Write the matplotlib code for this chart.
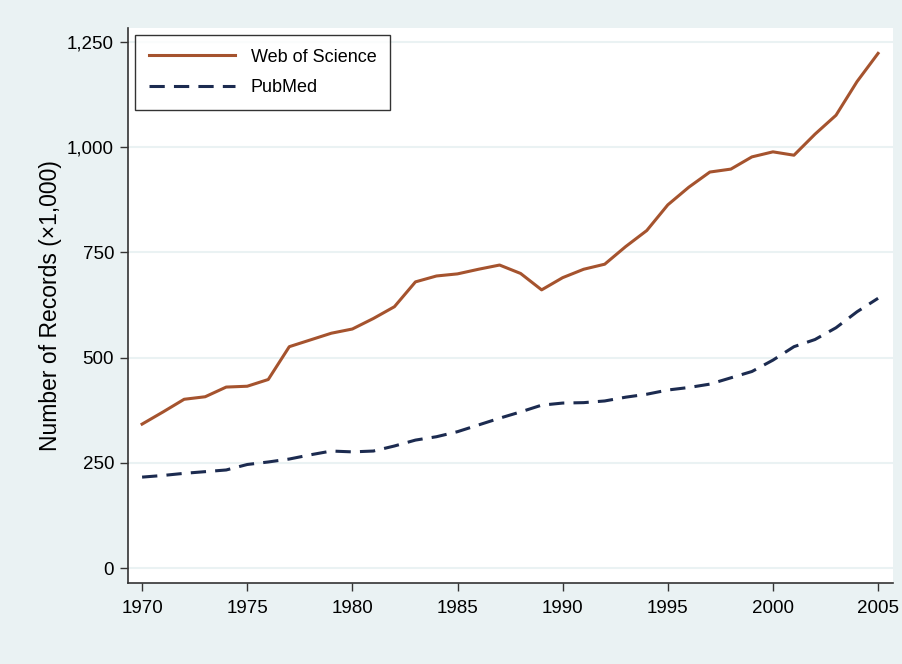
import matplotlib
matplotlib.use("Agg")
import matplotlib.pyplot as plt
from matplotlib.ticker import FuncFormatter

years = list(range(1970, 2006))
web_of_science = [342, 371, 401, 407, 430, 432, 448, 526, 542, 558, 568, 593, 621, 680,
                  694, 699, 710, 720, 700, 661, 690, 710, 722, 764, 802, 863, 905, 941,
                  948, 977, 989, 981, 1031, 1076, 1156, 1223]
pubmed = [216, 220, 225, 229, 233, 246, 252, 259, 269, 278, 276, 278, 290, 304, 312, 324,
          340, 356, 371, 387, 392, 393, 397, 406, 413, 423, 429, 437, 452, 467, 494, 526,
          543, 571, 609, 641]
x_ticks = [1970, 1975, 1980, 1985, 1990, 1995, 2000, 2005]
y_ticks = [0, 250, 500, 750, 1000, 1250]

plt.rcParams['font.family'] = ['Liberation Sans', 'DejaVu Sans']
bg = '#EAF2F3'
fig = plt.figure(figsize=(9.02, 6.64), dpi=100, facecolor=bg)
ax = fig.add_axes([128/902, 81/664, 765/902, 555/664])
ax.set_facecolor('white')

ax.plot(years, web_of_science, color='#A5532E', lw=2.2, label='Web of Science')
ax.plot(years, pubmed, color='#1C2B50', lw=2.2, dashes=(5, 3), label='PubMed')

ax.set_xlim(1969.33, 2005.71)
ax.set_ylim(-35.6, 1283.3)
ax.set_xticks(x_ticks)
ax.set_yticks(y_ticks)
ax.yaxis.set_major_formatter(FuncFormatter(lambda v, p: f"{int(v):,}"))
ax.grid(axis='y', color=bg, lw=1.5)
ax.set_axisbelow(True)
for s in ['top', 'right']:
    ax.spines[s].set_visible(False)
for s in ['left', 'bottom']:
    ax.spines[s].set_color('#333333')
    ax.spines[s].set_linewidth(1.2)
ax.tick_params(axis='both', labelsize=13.5, length=6, width=1, color='#333333')
ax.tick_params(axis='x', pad=6)
ax.tick_params(axis='y', pad=4)
ax.set_ylabel('Number of Records (×1,000)', fontsize=16.5, labelpad=4)

leg = ax.legend(loc='upper left', bbox_to_anchor=(7/765, 1 - 7/555), fontsize=13,
                frameon=True, fancybox=False, edgecolor='black', handlelength=4.8,
                handletextpad=0.85, borderpad=0.75, labelspacing=0.75, borderaxespad=0)
leg.get_frame().set_linewidth(1.0)

fig.savefig('out.png', dpi=100, facecolor=bg)
